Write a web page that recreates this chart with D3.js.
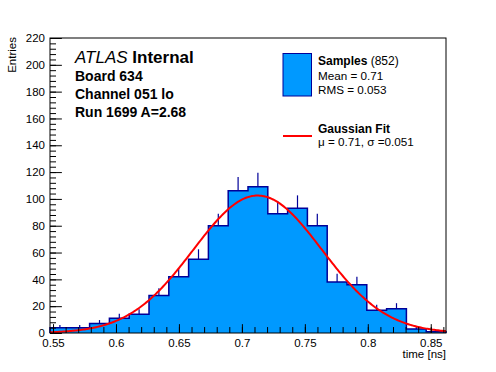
<!DOCTYPE html>
<html>
<head>
<meta charset="utf-8">
<script src="https://cdn.jsdelivr.net/npm/d3@7"></script>
<style>
  body { margin: 0; background: #fff; }
  svg { font-family: 'Liberation Sans', Arial, Helvetica, sans-serif; }
</style>
</head>
<body>
<div id="d3"></div>
<script>
// histogram binning and counts
const histRange = [0.5476, 0.8621]
const counts = [4, 4, 7, 11, 14, 28, 42, 55, 80, 106, 109, 89, 93, 80, 38, 36, 17, 18, 3, 1]

// gaussian fit parameters
const fitMean = 0.7125
const fitSigma = 0.051
const fitAmp = 102.5

const xTicks = [0.55, 0.6, 0.65, 0.7, 0.75, 0.8, 0.85]
const xTickLabels = ['0.55', '0.6', '0.65', '0.7', '0.75', '0.8', '0.85']
const yTicks = [0, 20, 40, 60, 80, 100, 120, 140, 160, 180, 200, 220]

const width = 496
const height = 372
const frame = { left: 50, right: 446, top: 38, bottom: 333 }
const blue = '#0099ff'
const darkBlue = '#000099'

const svg = d3.select('#d3')
  .append('svg')
  .attr('width', width)
  .attr('height', height)

svg.append('rect')
  .attr('width', width)
  .attr('height', height)
  .attr('fill', '#fff')

const x = d3.scaleLinear().domain(histRange).range([frame.left, frame.right])
const y = d3.scaleLinear().domain([0, 220]).range([frame.bottom, frame.top])

const nBins = counts.length
const binW = (histRange[1] - histRange[0]) / nBins
const bins = counts.map((c, i) => ({ lo: histRange[0] + i * binW, hi: histRange[0] + (i + 1) * binW, c: c }))

// error bars (lower half gets hidden by the fill)
svg.append('g')
  .selectAll('line')
  .data(bins)
  .enter()
  .append('line')
  .attr('x1', d => x((d.lo + d.hi) / 2))
  .attr('x2', d => x((d.lo + d.hi) / 2))
  .attr('y1', d => y(Math.max(0, d.c - Math.sqrt(d.c))))
  .attr('y2', d => y(d.c + Math.sqrt(d.c)))
  .attr('stroke', darkBlue)
  .attr('stroke-width', 1.2)

const stepPts = bins.map(d => [d.lo, d.c])
stepPts.push([histRange[1], counts[nBins - 1]])

const area = d3.area()
  .x(d => x(d[0]))
  .y0(y(0))
  .y1(d => y(d[1]))
  .curve(d3.curveStepAfter)

svg.append('path')
  .attr('d', area(stepPts))
  .attr('fill', blue)

const outline = [[histRange[0], 0]].concat(stepPts, [[histRange[1], 0]])
svg.append('path')
  .attr('d', d3.line().x(d => x(d[0])).y(d => y(d[1])).curve(d3.curveStepAfter)(outline))
  .attr('fill', 'none')
  .attr('stroke', darkBlue)
  .attr('stroke-width', 1.5)

// fit curve
const fitX = d3.range(0, 301).map(i => histRange[0] + i * (histRange[1] - histRange[0]) / 300)
const gaus = v => fitAmp * Math.exp(-0.5 * Math.pow((v - fitMean) / fitSigma, 2))
svg.append('path')
  .attr('d', d3.line().x(d => x(d)).y(d => y(gaus(d)))(fitX))
  .attr('fill', 'none')
  .attr('stroke', '#ff0000')
  .attr('stroke-width', 2)

// axes, ticks pointing inward like ROOT
const xLen = frame.bottom - frame.top
const yLen = frame.right - frame.left

const xMinor = d3.range(55, 87).map(v => v / 100)
svg.append('g')
  .attr('transform', `translate(0, ${frame.bottom})`)
  .call(d3.axisBottom(x).tickValues(xMinor).tickSize(-0.015 * yLen).tickFormat(''))
  .call(g => g.select('.domain').remove())

svg.append('g')
  .attr('transform', `translate(0, ${frame.bottom})`)
  .call(d3.axisBottom(x).tickValues(xTicks).tickSize(-0.03 * xLen * 0)
    .tickSizeInner(-0.03 * yLen * 0.745).tickPadding(6).tickFormat((d, i) => xTickLabels[i]))
  .call(g => g.select('.domain').remove())
  .call(g => g.selectAll('text').attr('font-size', 11.5).attr('font-family', null))

const yMinor = d3.range(0, 221, 4)
svg.append('g')
  .attr('transform', `translate(${frame.left}, 0)`)
  .call(d3.axisLeft(y).tickValues(yMinor).tickSize(-6).tickFormat(''))
  .call(g => g.select('.domain').remove())

svg.append('g')
  .attr('transform', `translate(${frame.left}, 0)`)
  .call(d3.axisLeft(y).tickValues(yTicks).tickSize(-0.03 * yLen).tickPadding(5))
  .call(g => g.select('.domain').remove())
  .call(g => g.selectAll('text').attr('font-size', 11.5).attr('font-family', null))

svg.selectAll('.tick line').attr('stroke', '#000')

svg.append('rect')
  .attr('x', frame.left)
  .attr('y', frame.top)
  .attr('width', frame.right - frame.left)
  .attr('height', frame.bottom - frame.top)
  .attr('fill', 'none')
  .attr('stroke', '#000')
  .attr('stroke-width', 1)

// axis titles
svg.append('text')
  .attr('transform', `translate(16, 37) rotate(-90)`)
  .attr('text-anchor', 'end')
  .attr('font-size', 11.5)
  .text('Entries')

svg.append('text')
  .attr('x', frame.right)
  .attr('y', 358)
  .attr('text-anchor', 'end')
  .attr('font-size', 11.5)
  .text('time [ns]')

// ATLAS label block
const atlas = svg.append('text')
  .attr('x', 75)
  .attr('y', 63)
  .attr('font-size', 17)
atlas.append('tspan').attr('font-style', 'italic').text('ATLAS')
atlas.append('tspan').attr('font-weight', 'bold').text(' Internal')

const info = ['Board 634', 'Channel 051 lo', 'Run 1699 A=2.68']
svg.append('g')
  .selectAll('text')
  .data(info)
  .enter()
  .append('text')
  .attr('x', 75)
  .attr('y', (d, i) => 81 + i * 18)
  .attr('font-size', 14)
  .attr('font-weight', 'bold')
  .text(d => d)

// legend
const leg = svg.append('g')
leg.append('rect')
  .attr('x', 283)
  .attr('y', 53.5)
  .attr('width', 28.5)
  .attr('height', 42.5)
  .attr('fill', blue)
  .attr('stroke', darkBlue)
  .attr('stroke-width', 1)

const t1 = leg.append('text').attr('x', 318).attr('y', 65).attr('font-size', 12)
t1.append('tspan').attr('font-weight', 'bold').text('Samples')
t1.append('tspan').text(' (852)')
leg.append('text').attr('x', 318).attr('y', 79.5).attr('font-size', 11.7).text('Mean = 0.71')
leg.append('text').attr('x', 318).attr('y', 93.5).attr('font-size', 11.7).text('RMS = 0.053')

leg.append('line')
  .attr('x1', 283)
  .attr('x2', 312)
  .attr('y1', 136)
  .attr('y2', 136)
  .attr('stroke', '#ff0000')
  .attr('stroke-width', 2)
leg.append('text').attr('x', 318).attr('y', 132.5).attr('font-size', 12).attr('font-weight', 'bold').text('Gaussian Fit')
leg.append('text').attr('x', 318).attr('y', 146).attr('font-size', 11.7).text('\u03bc = 0.71, \u03c3 =0.051')
</script>
</body>
</html>
